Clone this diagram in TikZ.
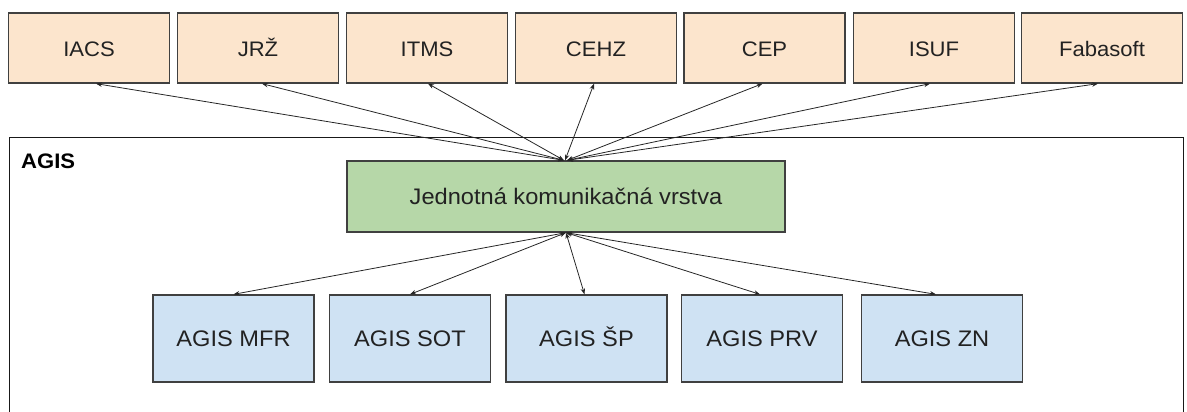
\documentclass[tikz,border=0pt]{standalone}
\usepackage{fontspec}
\setmainfont{Liberation Sans}[FakeStretch=1.05]
\usetikzlibrary{arrows.meta}
\definecolor{peach}{HTML}{FCE5CD}
\definecolor{lgreen}{HTML}{B6D7A8}
\definecolor{lblue}{HTML}{CFE2F3}
\definecolor{bord}{HTML}{404040}
\definecolor{txt}{HTML}{222222}
\begin{document}
\begin{tikzpicture}[x=1pt,y=-1pt,
  box/.style={draw=bord,line width=1.3pt,inner sep=0pt,text=txt,text depth=0pt},
  extbox/.style={box,fill=peach,minimum width=161pt,minimum height=70pt,
    font=\fontsize{21}{25}\selectfont,text height=18pt},
  agisbox/.style={box,fill=lblue,minimum width=161pt,minimum height=87pt,
    font=\fontsize{22.5}{27}\selectfont,text height=16pt},
  layerbox/.style={box,fill=lgreen,minimum width=438pt,minimum height=71pt,
    font=\fontsize{22.5}{27}\selectfont,text height=16pt},
  conn/.style={line width=0.8pt,black!85,
    {Stealth[length=6pt,width=4.5pt]}-{Stealth[length=6pt,width=4.5pt]}}
]
\useasboundingbox (0,0) rectangle (1187,412);
% outer AGIS container
\node[draw=black!90,line width=1pt,minimum width=1174.5pt,minimum height=320pt,
  anchor=north west,inner sep=0pt] (agis) at (8.5,137) {};
\node[anchor=base west,inner sep=0pt,text=black,
  font=\fontsize{21}{25}\bfseries\selectfont] (agislabel) at (21,168) {AGIS};
% external systems
\node[extbox] (iacs) at (89,48) {IACS};
\node[extbox] (jrz) at (258,48) {JRŽ};
\node[extbox] (itms) at (427,48) {ITMS};
\node[extbox] (cehz) at (596,48) {CEHZ};
\node[extbox] (cep) at (764.5,48) {CEP};
\node[extbox] (isuf) at (934,48) {ISUF};
\node[extbox] (faba) at (1102,48) {Fabasoft};
% communication layer
\node[layerbox] (jkv) at (566,196.5) {Jednotná komunikačná vrstva};
% AGIS modules
\node[agisbox] (mfr) at (233.5,338.5) {AGIS MFR};
\node[agisbox] (sot) at (410,338.5) {AGIS SOT};
\node[agisbox] (sp) at (586.5,338.5) {AGIS ŠP};
\node[agisbox] (prv) at (762,338.5) {AGIS PRV};
\node[agisbox] (zn) at (942,338.5) {AGIS ZN};
% connectors top
\draw[conn] ([xshift=7pt]iacs.south) -- ([xshift=-2pt]jkv.north);
\draw[conn] ([xshift=4pt]jrz.south) -- ([xshift=-2pt]jkv.north);
\draw[conn] ([xshift=1pt]itms.south) -- ([xshift=-2pt]jkv.north);
\draw[conn] ([xshift=-2pt]cehz.south) -- ([xshift=-1pt]jkv.north);
\draw[conn] ([xshift=-2pt]cep.south) -- ([xshift=1pt]jkv.north);
\draw[conn] ([xshift=-4pt]isuf.south) -- ([xshift=1pt]jkv.north);
\draw[conn] ([xshift=-4pt]faba.south) -- ([xshift=1pt]jkv.north);
% connectors bottom
\draw[conn] (jkv.south) -- (mfr.north);
\draw[conn] (jkv.south) -- (sot.north);
\draw[conn] (jkv.south) -- ([xshift=-2pt]sp.north);
\draw[conn] (jkv.south) -- ([xshift=-2pt]prv.north);
\draw[conn] (jkv.south) -- ([xshift=-6pt]zn.north);
\end{tikzpicture}
\end{document}
